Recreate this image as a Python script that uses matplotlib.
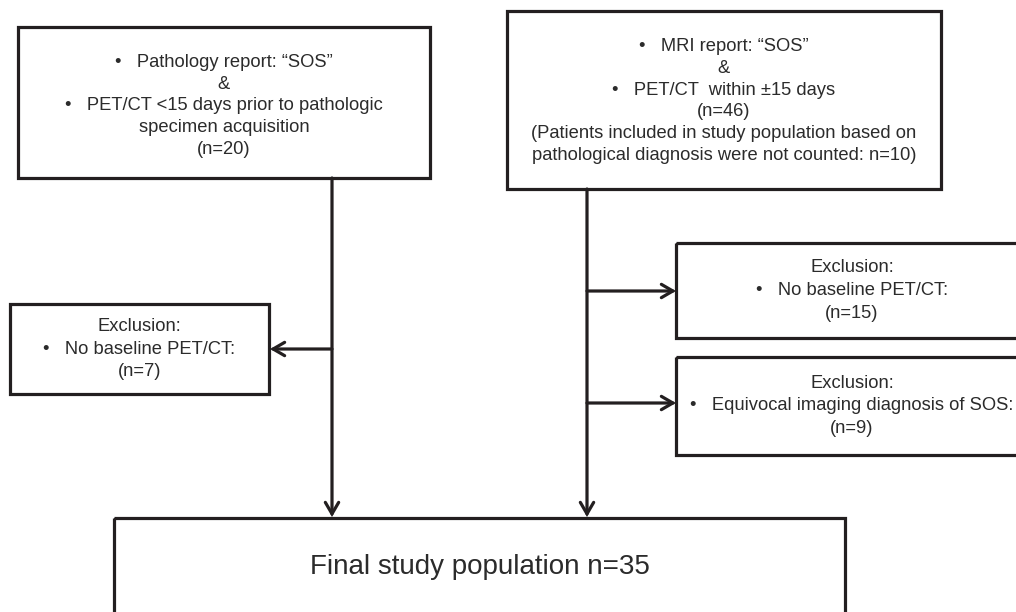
import matplotlib.pyplot as plt
from matplotlib.patches import Rectangle, FancyArrowPatch

plt.rcParams['font.family'] = ['Liberation Sans', 'DejaVu Sans']

# counts shown in the flow chart
n_path = 20
n_mri = 46
n_mri_dup = 10
n_excl_left = 7
n_excl_base = 15
n_excl_equiv = 9
n_final = 35

txt_path = ("\u2022   Pathology report: \u201cSOS\u201d\n&\n"
            "\u2022   PET/CT <15 days prior to pathologic\nspecimen acquisition\n"
            "(n=%d)" % n_path)
txt_mri = ("\u2022   MRI report: \u201cSOS\u201d\n&\n"
           "\u2022   PET/CT  within \u00b115 days\n(n=%d)\n"
           "(Patients included in study population based on\n"
           "pathological diagnosis were not counted: n=%d)" % (n_mri, n_mri_dup))
txt_left = "Exclusion:\n\u2022   No baseline PET/CT:\n(n=%d)" % n_excl_left
txt_base = "Exclusion:\n\u2022   No baseline PET/CT:\n(n=%d)" % n_excl_base
txt_equiv = "Exclusion:\n\u2022   Equivocal imaging diagnosis of SOS:\n(n=%d)" % n_excl_equiv
txt_final = "Final study population n=%d" % n_final

line_c = "#231f20"
text_c = "#2b2b2b"
lw = 2.3

fig = plt.figure(figsize=(10.16, 6.12), dpi=100)
ax = fig.add_axes([0, 0, 1, 1])
ax.set_xlim(0, 1016)
ax.set_ylim(612, 0)
ax.axis("off")


def box(x0, y0, x1, y1, text, size=13.2, ls=1.36, tx=None, ty=None):
    ax.add_patch(Rectangle((x0, y0), x1 - x0, y1 - y0, fill=False,
                           ec=line_c, lw=lw, clip_on=True))
    if tx is None:
        tx = (x0 + x1) / 2
    if ty is None:
        ty = (y0 + y1) / 2
    ax.text(tx, ty, text, ha="center", va="center", fontsize=size,
            color=text_c, linespacing=ls, multialignment="center")


def arrow(p0, p1):
    ax.add_patch(FancyArrowPatch(p0, p1, arrowstyle="->,head_length=0.55,head_width=0.32",
                                 mutation_scale=15, lw=lw, color=line_c,
                                 shrinkA=0, shrinkB=0, joinstyle="miter"))


box(18, 27, 430, 178, txt_path, ty=106)
box(507, 11, 941, 189, txt_mri, ty=101)
box(10, 304, 269, 394, txt_left, ls=1.45)
box(676, 243, 1030, 338, txt_base, ls=1.45, tx=852)
box(676, 357, 1030, 455, txt_equiv, ls=1.45, tx=852)
box(114, 518, 845, 640, txt_final, size=20, tx=480, ty=567)

# vertical connectors
arrow((332, 178), (332, 517))
arrow((587, 189), (587, 517))
# side branches
arrow((332, 349), (270, 349))
arrow((587, 291), (676, 291))
arrow((587, 403), (676, 403))

fig.savefig("out.png", dpi=100)
